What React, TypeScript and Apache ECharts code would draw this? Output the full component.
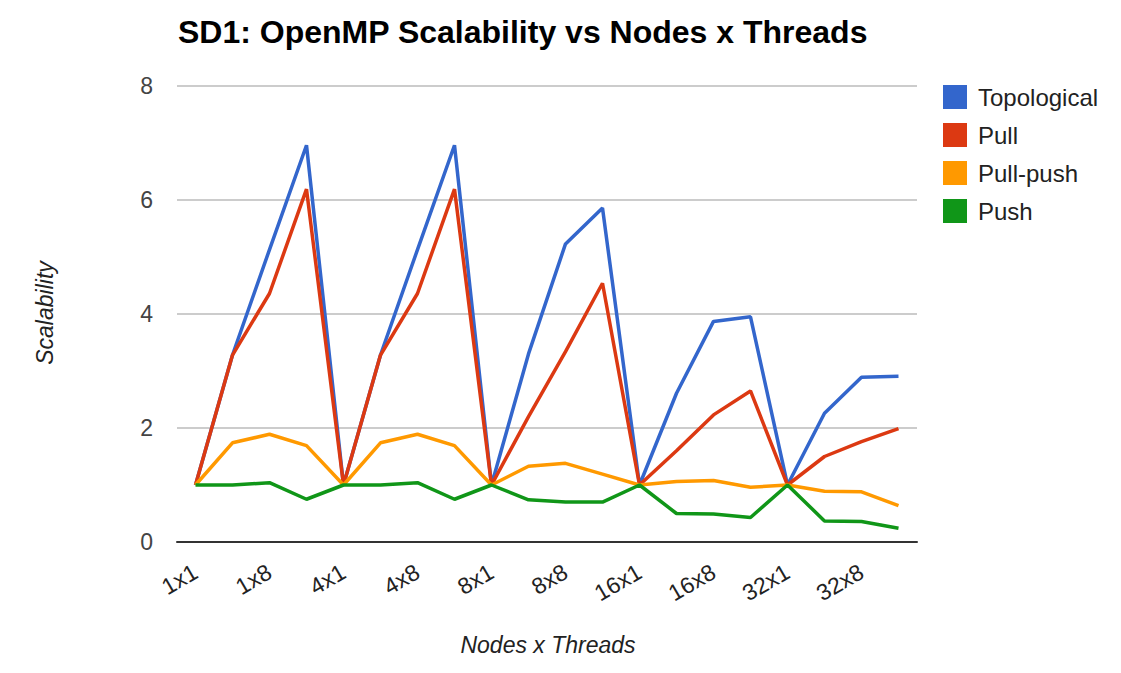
import React, { useEffect, useRef } from "react";
import * as echarts from "echarts";

const categories = [
  "1x1", "1x4", "1x8", "1x16",
  "4x1", "4x4", "4x8", "4x16",
  "8x1", "8x4", "8x8", "8x16",
  "16x1", "16x4", "16x8", "16x16",
  "32x1", "32x4", "32x8", "32x16",
];

const topological = [1, 3.28, 5.13, 6.96, 1, 3.28, 5.13, 6.96, 1, 3.3, 5.23, 5.86, 1, 2.61, 3.87, 3.95, 1, 2.26, 2.89, 2.91];
const pull = [1, 3.28, 4.36, 6.19, 1, 3.28, 4.36, 6.19, 1, 2.2, 3.34, 4.54, 1, 1.6, 2.23, 2.65, 1, 1.5, 1.76, 1.99];
const pullPush = [1, 1.74, 1.89, 1.69, 1, 1.74, 1.89, 1.69, 1, 1.33, 1.38, 1.19, 1, 1.06, 1.08, 0.96, 1, 0.89, 0.88, 0.64];
const push = [1, 1, 1.04, 0.75, 1, 1, 1.04, 0.75, 1, 0.74, 0.7, 0.7, 1, 0.5, 0.49, 0.43, 1, 0.37, 0.36, 0.24];

const seriesNames = ["Topological", "Pull", "Pull-push", "Push"];
const seriesData = [topological, pull, pullPush, push];
const colors = ["#3366cc", "#dc3912", "#ff9900", "#109618"];

const FONT = "'Liberation Sans', Arial, sans-serif";

export default function App() {
  const ref = useRef<HTMLDivElement>(null);

  useEffect(() => {
    if (!ref.current) return;
    const chart = echarts.init(ref.current, undefined, { renderer: "svg" });
    chart.setOption({
      animation: false,
      backgroundColor: "#ffffff",
      color: colors,
      textStyle: { fontFamily: FONT },
      title: {
        text: "SD1: OpenMP Scalability vs Nodes x Threads",
        left: 173,
        top: 11,
        textStyle: { fontSize: 32, fontWeight: "bold", color: "#000", fontFamily: FONT },
      },
      legend: {
        orient: "vertical",
        left: 938,
        top: 80,
        itemWidth: 24,
        itemHeight: 24,
        itemGap: 14,
        icon: "rect",
        data: seriesNames,
        textStyle: { fontSize: 24, color: "#222", fontFamily: FONT, padding: [0, 0, 0, 6], lineHeight: 24 },
      },
      grid: { left: 177, right: 204, top: 86, bottom: 131, containLabel: false },
      xAxis: {
        type: "category",
        data: categories,
        boundaryGap: true,
        axisLine: { show: true, lineStyle: { color: "#333", width: 2 } },
        axisTick: { show: false },
        axisLabel: {
          interval: 1,
          rotate: 30,
          margin: 28,
          fontSize: 23,
          color: "#222",
          fontFamily: FONT,
        },
        splitLine: { show: false },
      },
      yAxis: {
        type: "value",
        min: 0,
        max: 8,
        interval: 2,
        axisLine: { show: false },
        axisTick: { show: false },
        axisLabel: { fontSize: 23, color: "#444", margin: 24, fontFamily: FONT },
        splitLine: { lineStyle: { color: "#cccccc", width: 2 } },
      },
      graphic: [
        {
          type: "text",
          x: 45,
          y: 313,
          rotation: Math.PI / 2,
          style: {
            text: "Scalability",
            font: `italic 23px ${FONT}`,
            fill: "#222",
            align: "center",
            verticalAlign: "middle",
          },
        },
        {
          type: "text",
          x: 548,
          y: 645,
          style: {
            text: "Nodes x Threads",
            font: `italic 23px ${FONT}`,
            fill: "#222",
            align: "center",
            verticalAlign: "middle",
          },
        },
      ],
      series: seriesNames.map((name, i) => ({
        name,
        type: "line",
        data: seriesData[i],
        symbol: "none",
        lineStyle: { width: 3.5, color: colors[i] },
        itemStyle: { color: colors[i] },
      })),
    });
    return () => chart.dispose();
  }, []);

  return (
    <div
      ref={ref}
      style={{ position: "fixed", left: 0, top: 0, width: 1121, height: 673, background: "#fff" }}
    />
  );
}
